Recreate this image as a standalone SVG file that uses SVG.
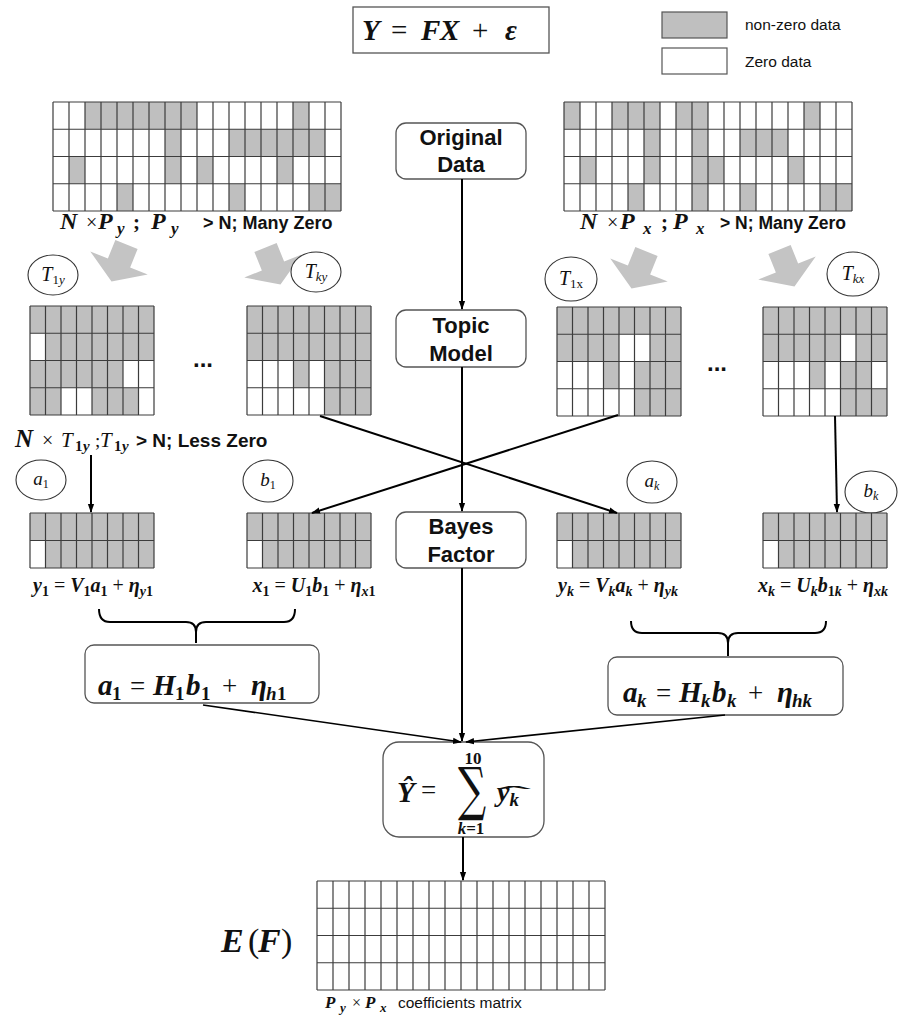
<svg xmlns="http://www.w3.org/2000/svg" width="903" height="1021" viewBox="0 0 903 1021">
<style>
.nz{fill:#bfbfbf}
.wz{fill:#fff}
.gl{fill:none;stroke:#3c3c3c;stroke-width:1.2}
.box{fill:#fff;stroke:#555;stroke-width:1.3}
.circ{fill:#fff;stroke:#333;stroke-width:1.1}
.lbl{font-family:"Liberation Sans",Arial,sans-serif;font-weight:bold;font-size:22px;text-anchor:middle;fill:#111}
.m{font-family:"Liberation Serif","DejaVu Serif",serif;fill:#111}
.bi{font-weight:bold;font-style:italic}
.b{font-weight:bold;font-style:normal}
.r{font-weight:normal;font-style:normal}
.it{font-style:italic;font-weight:normal}
.sans{font-family:"Liberation Sans",Arial,sans-serif;fill:#111}
.con{fill:none;stroke:#000;stroke-width:2}
.thin{stroke-width:1.6}
.ga{fill:#c4c4c4}
</style>
<defs>
<marker id="ah" viewBox="0 0 10 10" refX="9" refY="5" markerWidth="9" markerHeight="9" markerUnits="userSpaceOnUse" orient="auto"><path d="M0,1.5L10,5L0,8.5z" fill="#000"/></marker>
<path id="g18" class="gl" d="M0,0V109M16,0V109M32,0V109M48,0V109M64,0V109M80,0V109M96,0V109M112,0V109M128,0V109M144,0V109M160,0V109M176,0V109M192,0V109M208,0V109M224,0V109M240,0V109M256,0V109M272,0V109M288,0V109M0,0H288M0,27.25H288M0,54.5H288M0,81.75H288M0,109H288"/>
<path id="g8x4" class="gl" d="M0,0V109M15.5,0V109M31,0V109M46.5,0V109M62,0V109M77.5,0V109M93,0V109M108.5,0V109M124,0V109M0,0H124M0,27.25H124M0,54.5H124M0,81.75H124M0,109H124"/>
<path id="g8x2" class="gl" d="M0,0V55M15.5,0V55M31,0V55M46.5,0V55M62,0V55M77.5,0V55M93,0V55M108.5,0V55M124,0V55M0,0H124M0,27.5H124M0,55H124"/>
<polygon id="ba" class="ga" points="-12,-20 12,-20 12,0 31,0 0,20 -31,0 -12,0"/>
</defs>

<g id="title">
<rect x="353" y="7" width="196" height="46" fill="#fff" stroke="#555" stroke-width="1.3"/>
<text class="m" y="40" font-size="29"><tspan class="bi" x="362">Y</tspan><tspan class="r" x="391">=</tspan><tspan class="bi" x="421">F</tspan><tspan class="bi" x="440">X</tspan><tspan class="r" x="472">+</tspan><tspan class="bi" x="505">ε</tspan></text>
</g>

<g id="legend">
<rect x="662" y="12" width="65" height="26" fill="#bfbfbf" stroke="#555" stroke-width="1.2"/>
<rect x="662" y="48" width="65" height="26" fill="#fff" stroke="#555" stroke-width="1.2"/>
<text class="sans" x="745" y="30" font-size="15.5">non-zero data</text>
<text class="sans" x="745" y="67" font-size="15.5">Zero data</text>
</g>

<g id="big-arrows">
<use href="#ba" transform="translate(119,263) rotate(22)"/>
<use href="#ba" transform="translate(273,266) rotate(-22)"/>
<use href="#ba" transform="translate(639,270) rotate(22)"/>
<use href="#ba" transform="translate(787,268) rotate(-22)"/>
</g>

<g id="Y-matrix" transform="translate(53,102)">
<rect class="nz" x="32" y="0" width="112" height="27.25"/>
<rect class="nz" x="240" y="0" width="16" height="27.25"/>
<rect class="nz" x="112" y="27.25" width="16" height="27.25"/>
<rect class="nz" x="176" y="27.25" width="96" height="27.25"/>
<rect class="nz" x="16" y="54.5" width="16" height="27.25"/>
<rect class="nz" x="112" y="54.5" width="16" height="27.25"/>
<rect class="nz" x="144" y="54.5" width="16" height="27.25"/>
<rect class="nz" x="224" y="54.5" width="16" height="27.25"/>
<rect class="nz" x="64" y="81.75" width="16" height="27.25"/>
<rect class="nz" x="176" y="81.75" width="16" height="27.25"/>
<rect class="nz" x="256" y="81.75" width="32" height="27.25"/>
<use href="#g18"/>
</g>
<g id="Y-label">
<text class="m" y="229"><tspan class="bi" x="60" font-size="24">N</tspan><tspan class="r" x="86" font-size="20">×</tspan><tspan class="bi" x="98" font-size="24">P</tspan><tspan class="bi" x="117" y="234" font-size="17">y</tspan><tspan class="b" x="133" y="229" font-size="21">;</tspan><tspan class="bi" x="151" font-size="24">P</tspan><tspan class="bi" x="171" y="234" font-size="17">y</tspan></text>
<text class="sans" font-weight="bold" x="203" y="229" font-size="18">&gt; N; Many Zero</text>
</g>

<g id="X-matrix" transform="translate(564,102)">
<rect class="nz" x="0" y="0" width="16" height="27.25"/>
<rect class="nz" x="48" y="0" width="48" height="27.25"/>
<rect class="nz" x="112" y="0" width="32" height="27.25"/>
<rect class="nz" x="240" y="0" width="16" height="27.25"/>
<rect class="nz" x="80" y="27.25" width="16" height="27.25"/>
<rect class="nz" x="128" y="27.25" width="16" height="27.25"/>
<rect class="nz" x="176" y="27.25" width="48" height="27.25"/>
<rect class="nz" x="16" y="54.5" width="16" height="27.25"/>
<rect class="nz" x="80" y="54.5" width="16" height="27.25"/>
<rect class="nz" x="128" y="54.5" width="32" height="27.25"/>
<rect class="nz" x="224" y="54.5" width="16" height="27.25"/>
<rect class="nz" x="64" y="81.75" width="16" height="27.25"/>
<rect class="nz" x="128" y="81.75" width="16" height="27.25"/>
<rect class="nz" x="176" y="81.75" width="16" height="27.25"/>
<rect class="nz" x="256" y="81.75" width="32" height="27.25"/>
<use href="#g18"/>
</g>
<g id="X-label">
<text class="m" y="229"><tspan class="bi" x="580" font-size="24">N</tspan><tspan class="r" x="607" font-size="20">×</tspan><tspan class="bi" x="620" font-size="24">P</tspan><tspan class="bi" x="643" y="234" font-size="17">x</tspan><tspan class="b" x="661" y="229" font-size="21">;</tspan><tspan class="bi" x="673" font-size="24">P</tspan><tspan class="bi" x="696" y="234" font-size="17">x</tspan></text>
<text class="sans" font-weight="bold" x="720" y="229" font-size="17.5">&gt; N; Many Zero</text>
</g>

<g id="original-data">
<rect class="box" x="396" y="123" width="130" height="56" rx="10"/>
<text class="lbl" x="461" y="145">Original</text>
<text class="lbl" x="461" y="172">Data</text>
</g>
<g id="topic-model">
<rect class="box" x="396" y="310" width="130" height="57" rx="10"/>
<text class="lbl" x="461" y="333">Topic</text>
<text class="lbl" x="461" y="361">Model</text>
</g>
<g id="bayes-factor">
<rect class="box" x="396" y="512" width="130" height="56" rx="10"/>
<text class="lbl" x="461" y="534">Bayes</text>
<text class="lbl" x="461" y="562">Factor</text>
</g>

<g id="T1y">
<ellipse class="circ" cx="53" cy="275" rx="25" ry="20"/>
<text class="m" x="53" y="281" text-anchor="middle" font-size="20"><tspan class="it">T</tspan><tspan font-size="13" dy="3">1</tspan><tspan class="it" font-size="13">y</tspan></text>
</g>
<g id="Tky">
<ellipse class="circ" cx="316" cy="272" rx="25" ry="20"/>
<text class="m" x="316" y="278" text-anchor="middle" font-size="20"><tspan class="it">T</tspan><tspan class="it" font-size="13" dy="3">ky</tspan></text>
</g>
<g id="T1x">
<ellipse class="circ" cx="571" cy="279" rx="26" ry="22"/>
<text class="m" x="571" y="285" text-anchor="middle" font-size="20"><tspan class="it">T</tspan><tspan font-size="13" dy="3">1x</tspan></text>
</g>
<g id="Tkx">
<ellipse class="circ" cx="853" cy="274" rx="26" ry="22"/>
<text class="m" x="853" y="280" text-anchor="middle" font-size="20"><tspan class="it">T</tspan><tspan class="it" font-size="13" dy="3">kx</tspan></text>
</g>

<g id="T1y-matrix" transform="translate(30,306)">
<rect class="nz" width="124" height="109"/>
<rect class="wz" x="0" y="27.25" width="15.5" height="27.25"/>
<rect class="wz" x="93" y="54.5" width="31" height="27.25"/>
<rect class="wz" x="31" y="81.75" width="31" height="27.25"/>
<rect class="wz" x="108.5" y="81.75" width="15.5" height="27.25"/>
<use href="#g8x4"/>
</g>
<g id="Tky-matrix" transform="translate(247,306)">
<rect class="nz" width="124" height="109"/>
<rect class="wz" x="0" y="54.5" width="46.5" height="27.25"/>
<rect class="wz" x="62" y="54.5" width="15.5" height="27.25"/>
<rect class="wz" x="0" y="81.75" width="77.5" height="27.25"/>
<use href="#g8x4"/>
</g>
<g id="T1x-matrix" transform="translate(557,307)">
<rect class="nz" width="124" height="109"/>
<rect class="wz" x="62" y="27.25" width="31" height="27.25"/>
<rect class="wz" x="0" y="54.5" width="46.5" height="27.25"/>
<rect class="wz" x="62" y="54.5" width="15.5" height="27.25"/>
<rect class="wz" x="0" y="81.75" width="77.5" height="27.25"/>
<use href="#g8x4"/>
</g>
<g id="Tkx-matrix" transform="translate(763,307)">
<rect class="nz" width="124" height="109"/>
<rect class="wz" x="77.5" y="27.25" width="15.5" height="27.25"/>
<rect class="wz" x="0" y="54.5" width="46.5" height="27.25"/>
<rect class="wz" x="62" y="54.5" width="15.5" height="27.25"/>
<rect class="wz" x="108.5" y="54.5" width="15.5" height="27.25"/>
<rect class="wz" x="0" y="81.75" width="77.5" height="27.25"/>
<use href="#g8x4"/>
</g>
<g id="dots">
<text class="sans" font-weight="bold" x="203" y="367" font-size="24" text-anchor="middle">...</text>
<text class="sans" font-weight="bold" x="717" y="371" font-size="24" text-anchor="middle">...</text>
</g>

<g id="T-label">
<text class="m" y="447"><tspan class="bi" x="15" font-size="25">N</tspan><tspan class="r" x="42" font-size="20">×</tspan><tspan class="it" x="61" font-size="21">T</tspan><tspan class="b" x="75" y="451" font-size="15">1</tspan><tspan class="bi" x="83" y="451" font-size="15">y</tspan><tspan class="r" x="95" y="447" font-size="19">;</tspan><tspan class="it" x="100" font-size="21">T</tspan><tspan class="b" x="114" y="451" font-size="15">1</tspan><tspan class="bi" x="122" y="451" font-size="15">y</tspan></text>
<text class="sans" font-weight="bold" x="136" y="447" font-size="19">&gt; N; Less Zero</text>
</g>

<g id="a1">
<ellipse class="circ" cx="41" cy="480" rx="25" ry="20"/>
<text class="m" x="41" y="485" text-anchor="middle" font-size="19"><tspan class="it">a</tspan><tspan font-size="12" dy="3">1</tspan></text>
</g>
<g id="b1">
<ellipse class="circ" cx="268" cy="481" rx="25" ry="21"/>
<text class="m" x="268" y="486" text-anchor="middle" font-size="19"><tspan class="it">b</tspan><tspan font-size="12" dy="3">1</tspan></text>
</g>
<g id="ak">
<ellipse class="circ" cx="652" cy="482" rx="25" ry="21"/>
<text class="m" x="652" y="487" text-anchor="middle" font-size="19"><tspan class="it">a</tspan><tspan class="it" font-size="12" dy="3">k</tspan></text>
</g>
<g id="bk">
<ellipse class="circ" cx="871" cy="492" rx="26" ry="21"/>
<text class="m" x="871" y="497" text-anchor="middle" font-size="19"><tspan class="it">b</tspan><tspan class="it" font-size="12" dy="3">k</tspan></text>
</g>

<g id="y1-matrix" transform="translate(30,513)">
<rect class="nz" width="124" height="55"/>
<rect class="wz" x="0" y="27.5" width="15.5" height="27.5"/>
<use href="#g8x2"/>
</g>
<g id="x1-matrix" transform="translate(247,513)">
<rect class="nz" width="124" height="55"/>
<rect class="wz" x="0" y="27.5" width="15.5" height="27.5"/>
<use href="#g8x2"/>
</g>
<g id="yk-matrix" transform="translate(557,513)">
<rect class="nz" width="124" height="55"/>
<rect class="wz" x="0" y="27.5" width="15.5" height="27.5"/>
<use href="#g8x2"/>
</g>
<g id="xk-matrix" transform="translate(763,513)">
<rect class="nz" width="124" height="55"/>
<rect class="wz" x="0" y="27.5" width="15.5" height="27.5"/>
<use href="#g8x2"/>
</g>

<g id="eq-y1">
<text class="m" x="93" y="592" text-anchor="middle" font-size="20"><tspan class="bi">y</tspan><tspan class="b" font-size="14" dy="4">1</tspan><tspan class="r" dy="-4"> = </tspan><tspan class="bi">V</tspan><tspan class="b" font-size="14" dy="4">1</tspan><tspan class="bi" dy="-4">a</tspan><tspan class="b" font-size="14" dy="4">1</tspan><tspan class="r" dy="-4"> + </tspan><tspan class="bi">η</tspan><tspan class="bi" font-size="14" dy="4">y</tspan><tspan class="b" font-size="14">1</tspan></text>
</g>
<g id="eq-x1">
<text class="m" x="314" y="592" text-anchor="middle" font-size="20"><tspan class="bi">x</tspan><tspan class="b" font-size="14" dy="4">1</tspan><tspan class="r" dy="-4"> = </tspan><tspan class="bi">U</tspan><tspan class="b" font-size="14" dy="4">1</tspan><tspan class="bi" dy="-4">b</tspan><tspan class="b" font-size="14" dy="4">1</tspan><tspan class="r" dy="-4"> + </tspan><tspan class="bi">η</tspan><tspan class="bi" font-size="14" dy="4">x</tspan><tspan class="b" font-size="14">1</tspan></text>
</g>
<g id="eq-yk">
<text class="m" x="618" y="592" text-anchor="middle" font-size="20"><tspan class="bi">y</tspan><tspan class="bi" font-size="14" dy="4">k</tspan><tspan class="r" dy="-4"> = </tspan><tspan class="bi">V</tspan><tspan class="bi" font-size="14" dy="4">k</tspan><tspan class="bi" dy="-4">a</tspan><tspan class="bi" font-size="14" dy="4">k</tspan><tspan class="r" dy="-4"> + </tspan><tspan class="bi">η</tspan><tspan class="bi" font-size="14" dy="4">yk</tspan></text>
</g>
<g id="eq-xk">
<text class="m" x="823" y="592" text-anchor="middle" font-size="20"><tspan class="bi">x</tspan><tspan class="bi" font-size="14" dy="4">k</tspan><tspan class="r" dy="-4"> = </tspan><tspan class="bi">U</tspan><tspan class="bi" font-size="14" dy="4">k</tspan><tspan class="bi" dy="-4">b</tspan><tspan class="b" font-size="14" dy="4">1</tspan><tspan class="bi" font-size="14">k</tspan><tspan class="r" dy="-4"> + </tspan><tspan class="bi">η</tspan><tspan class="bi" font-size="14" dy="4">xk</tspan></text>
</g>

<g id="h1-box">
<rect class="box" x="85" y="645" width="234" height="58" rx="9"/>
<text class="m" y="695" font-size="29"><tspan class="bi" x="98">a</tspan><tspan class="b" x="112" y="700" font-size="19">1</tspan><tspan class="r" x="130" y="695" font-size="27">=</tspan><tspan class="bi" x="153">H</tspan><tspan class="b" x="175" y="700" font-size="19">1</tspan><tspan class="bi" x="186" y="695">b</tspan><tspan class="b" x="201" y="700" font-size="19">1</tspan><tspan class="r" x="222" y="695" font-size="27">+</tspan><tspan class="bi" x="251">η</tspan><tspan class="bi" x="266" y="700" font-size="19">h</tspan><tspan class="b" x="277" font-size="19">1</tspan></text>
</g>
<g id="hk-box">
<rect class="box" x="608" y="657" width="235" height="58" rx="9"/>
<text class="m" y="702" font-size="29"><tspan class="bi" x="623">a</tspan><tspan class="bi" x="637" y="707" font-size="19">k</tspan><tspan class="r" x="656" y="702" font-size="27">=</tspan><tspan class="bi" x="679">H</tspan><tspan class="bi" x="701" y="707" font-size="19">k</tspan><tspan class="bi" x="712" y="702">b</tspan><tspan class="bi" x="727" y="707" font-size="19">k</tspan><tspan class="r" x="748" y="702" font-size="27">+</tspan><tspan class="bi" x="777">η</tspan><tspan class="bi" x="792" y="707" font-size="19">hk</tspan></text>
</g>

<g id="sum-box">
<rect class="box" x="383" y="742" width="161" height="95" rx="16"/>
<text class="m bi" x="397" y="802" font-size="29">Ŷ</text>
<text class="m r" x="421" y="799" font-size="27">=</text>
<text x="0" y="0" font-size="58" text-anchor="middle" font-family="DejaVu Serif,serif" fill="#111" transform="translate(472,809) scale(0.68,1)">∑</text>
<text class="m b" x="473" y="764" text-anchor="middle" font-size="17">10</text>
<text class="m" x="471" y="834" text-anchor="middle" font-size="17"><tspan class="bi">k</tspan><tspan class="b">=1</tspan></text>
<text class="m bi" x="497" y="801" font-size="28">y<tspan font-size="19" dy="5">k</tspan></text>
<text class="sans" x="0" y="0" font-size="20" text-anchor="middle" transform="translate(514,802) scale(5.2,1.1)">ˆ</text>
</g>

<g id="EF-matrix" transform="translate(317,881)">
<use href="#g18"/>
</g>
<g id="EF-label">
<text class="m" y="952" font-size="34"><tspan class="bi" x="221">E</tspan><tspan class="r" x="248">(</tspan><tspan class="bi" x="258">F</tspan><tspan class="r" x="281">)</tspan></text>
<text class="m" y="1008" font-size="17"><tspan class="bi" x="325">P</tspan><tspan class="bi" x="340" y="1012" font-size="13">y</tspan><tspan class="r" x="352" y="1008" font-size="16">×</tspan><tspan class="bi" x="365" font-size="17">P</tspan><tspan class="bi" x="380" y="1012" font-size="13">x</tspan></text>
<text class="sans" x="398" y="1008" font-size="15.5">coefficients matrix</text>
</g>

<g id="connectors">
<path class="con" d="M462,179V309" marker-end="url(#ah)"/>
<path class="con" d="M462,367V511" marker-end="url(#ah)"/>
<path class="con" d="M462,568V741" marker-end="url(#ah)"/>
<path class="con" d="M463,837V880" marker-end="url(#ah)"/>
<path class="con" d="M320,416L617,513" marker-end="url(#ah)"/>
<path class="con" d="M618,415L312,513" marker-end="url(#ah)"/>
<path class="con" d="M91,455V512" marker-end="url(#ah)"/>
<path class="con" d="M835,416L837,512" marker-end="url(#ah)"/>
<path class="con thin" d="M203,705L461,742" marker-end="url(#ah)"/>
<path class="con thin" d="M725,715L466,742" marker-end="url(#ah)"/>
<path class="con" d="M99,609Q99,622 110,622H186Q196,622 196,632V643M196,632Q196,622 206,622H284Q295,622 295,609"/>
<path class="con" d="M631,621Q631,633 642,633H718Q728,633 728,643V656M728,643Q728,633 738,633H815Q826,633 826,621"/>
</g>
</svg>
